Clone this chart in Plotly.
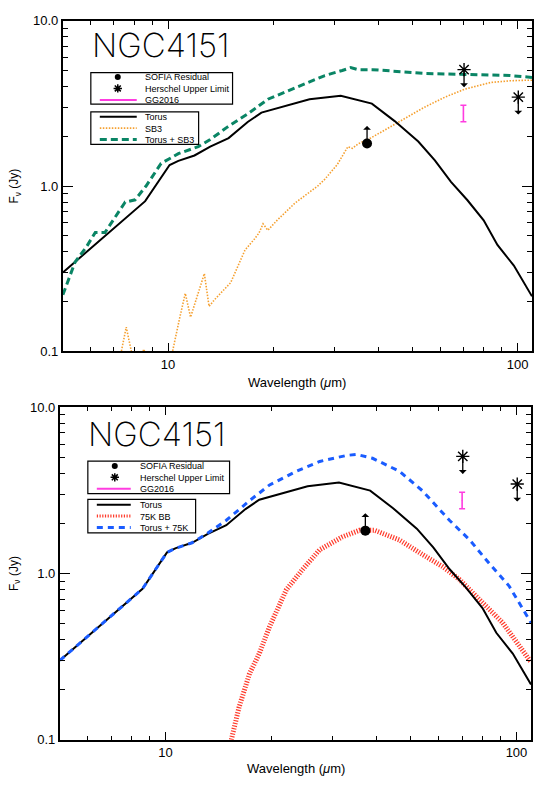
import numpy as np
import plotly.graph_objects as go

W, H = 534, 787

# ---------------- data ----------------
torus_wl = [5.0, 8.6, 10.1, 10.7, 11.9, 13.2, 14.9, 16.9, 18.5, 21.0, 25.4, 31.2, 38.3, 44.5,
            52.0, 58.0, 64.5, 71.9, 80.0, 87.6, 97.6, 110.0]
torus_f = [0.30, 0.81, 1.34, 1.42, 1.53, 1.73, 1.95, 2.44, 2.78, 3.0, 3.35, 3.52, 3.15, 2.47,
           1.86, 1.43, 1.06, 0.82, 0.62, 0.44, 0.33, 0.215]

sb3_wl = [5.0, 6.5, 7.2, 7.35, 7.59, 7.85, 8.0, 8.3, 8.53, 8.75, 9.5, 10.3, 10.8, 11.2, 11.6,
          12.0, 12.7, 13.1, 13.6, 15.1, 16.6, 17.7, 18.2, 18.7, 19.3, 20.5, 23.1, 26.8, 28.1,
          30.5, 32.7, 33.7, 35.0, 38.0, 43.3, 54.2, 62.0, 70.5, 83.7, 95.0, 104.7, 110.0]
sb3_f = [0.03, 0.04, 0.07, 0.1, 0.14, 0.1, 0.07, 0.09, 0.103, 0.08, 0.06, 0.1, 0.16, 0.224, 0.161,
         0.2, 0.295, 0.187, 0.206, 0.26, 0.41, 0.48, 0.52, 0.59, 0.54, 0.62, 0.79, 1.0, 1.10,
         1.35, 1.73, 1.69, 1.80, 1.95, 2.28, 3.0, 3.45, 3.85, 4.23, 4.33, 4.36, 4.36]

tsb3_wl = [5.0, 5.42, 5.83, 6.19, 6.6, 7.06, 7.54, 8.05, 8.65, 9.55, 10.7, 12.2, 13.2, 14.8,
           16.9, 19.3, 22.5, 28.1, 31.5, 33.3, 34.9, 38.5, 54.2, 70.5, 95.3, 110.0]
tsb3_f = [0.22, 0.347, 0.426, 0.524, 0.524, 0.644, 0.80, 0.825, 1.0, 1.37, 1.57, 1.73, 1.91, 2.28,
          2.73, 3.35, 3.85, 4.66, 5.0, 5.2, 5.06, 5.06, 4.8, 4.73, 4.66, 4.54]

bb75_wl = [15.4, 16.2, 17.35, 18.5, 19.8, 22.1, 24.6, 27.5, 31.9, 35.7, 39.4, 46.4, 54.0,
           61.6, 68.8, 80.0, 91.3, 110.0]
bb75_f = [0.1, 0.157, 0.25, 0.33, 0.48, 0.80, 1.06, 1.39, 1.66, 1.82, 1.82, 1.59, 1.30,
          1.10, 0.92, 0.665, 0.506, 0.293]

t75_wl = [5.0, 8.6, 10.1, 10.7, 11.9, 13.2, 14.9, 17.35, 19.8, 23.6, 27.5, 32.8, 35.0, 38.9,
          46.4, 54.0, 64.4, 73.6, 83.6, 95.3, 110.0]
t75_f = [0.30, 0.81, 1.34, 1.42, 1.53, 1.75, 2.09, 2.74, 3.41, 4.12, 4.72, 5.13, 5.2, 4.93,
         4.12, 3.14, 2.09, 1.59, 1.15, 0.84, 0.506]

sofia_wl = [37.1]
sofia_f = [1.81]

herschel_wl = [70.3, 100.5]
herschel_f = [5.06, 3.45]

gg_wl = [70.0]
gg_f = [2.75]
gg_err_plus = [0.33]
gg_err_minus = [0.30]

x_ticks = [10, 100]
x_ticktext = ["10", "100"]
y_ticks = [0.1, 1, 10]
y_ticktext = ["0.1", "1.0", "10.0"]

legend1_names = ["SOFIA Residual", "Herschel Upper Limit", "GG2016"]

# ---------------- styles ----------------
FONT = "Liberation Sans"
C_ORANGE = "#f5a030"
C_GREEN = "#0a8565"
C_RED = "#ff3a2a"
C_BLUE = "#1a5cff"
C_MAG = "#ff3ce0"

st_torus = dict(color="black", width=2)
st_sb3 = dict(color=C_ORANGE, width=1.6, dash="1.5px,1.5px")
st_tsb3 = dict(color=C_GREEN, width=3, dash="7px,4px")
st_bb = dict(color=C_RED, width=5, dash="1.2px,1.5px")
st_t75 = dict(color=C_BLUE, width=3, dash="6px,5px")

def px(x):
    return x / W

def py(y):
    return 1 - y / H

fig = go.Figure()

panels = [
    dict(xa="x", ya="y", dom_x=(63, 533), dom_y=(14, 351),
         comp=(sb3_wl, sb3_f, st_sb3, "SB3"), tot=(tsb3_wl, tsb3_f, st_tsb3, "Torus + SB3")),
    dict(xa="x2", ya="y2", dom_x=(60, 532), dom_y=(408, 747),
         comp=(bb75_wl, bb75_f, st_bb, "75K BB"), tot=(t75_wl, t75_f, st_t75, "Torus + 75K")),
]

for p in panels:
    xa, ya = p["xa"], p["ya"]
    cw, cf, cst, cname = p["comp"]
    tw, tf, tst, tname = p["tot"]
    fig.add_trace(go.Scatter(x=cw, y=cf, mode="lines", line=cst, name=cname,
                             xaxis=xa, yaxis=ya, showlegend=False))
    fig.add_trace(go.Scatter(x=torus_wl, y=torus_f, mode="lines", line=st_torus, name="Torus",
                             xaxis=xa, yaxis=ya, showlegend=False))
    fig.add_trace(go.Scatter(x=tw, y=tf, mode="lines", line=tst, name=tname,
                             xaxis=xa, yaxis=ya, showlegend=False))
    fig.add_trace(go.Scatter(x=gg_wl, y=gg_f, mode="markers",
                             marker=dict(size=1, color=C_MAG),
                             error_y=dict(type="data", symmetric=False, array=gg_err_plus,
                                          arrayminus=gg_err_minus, color=C_MAG,
                                          thickness=1.6, width=3),
                             xaxis=xa, yaxis=ya, showlegend=False, name="GG2016"))
    fig.add_trace(go.Scatter(x=sofia_wl, y=sofia_f, mode="markers",
                             marker=dict(size=10, color="black", symbol="circle"),
                             xaxis=xa, yaxis=ya, showlegend=False, name="SOFIA Residual"))
    fig.add_trace(go.Scatter(x=herschel_wl, y=herschel_f, mode="markers",
                             marker=dict(size=11, color="black", symbol="asterisk-open",
                                         line=dict(width=1.4, color="black")),
                             xaxis=xa, yaxis=ya, showlegend=False, name="Herschel Upper Limit"))
    # arrows (limits)
    for w, f in zip(sofia_wl, sofia_f):
        fig.add_annotation(x=np.log10(w), y=np.log10(f), xref=xa, yref=ya, ax=0, ay=-19,
                           axref="pixel", ayref="pixel", text="", showarrow=True,
                           arrowside="start", arrowhead=4, arrowsize=1.0, arrowwidth=1.3,
                           arrowcolor="black", standoff=0, startstandoff=0)
    for w, f in zip(herschel_wl, herschel_f):
        fig.add_annotation(x=np.log10(w), y=np.log10(f), xref=xa, yref=ya, ax=0, ay=19,
                           axref="pixel", ayref="pixel", text="", showarrow=True,
                           arrowside="start", arrowhead=4, arrowsize=1.0, arrowwidth=1.3,
                           arrowcolor="black", standoff=0, startstandoff=0)

# ---------------- axes ----------------
minor_x = [5, 6, 7, 8, 9, 20, 30, 40, 50, 60, 70, 80, 90]
minor_y = [0.2, 0.3, 0.4, 0.5, 0.6, 0.7, 0.8, 0.9, 2, 3, 4, 5, 6, 7, 8, 9]

def xaxis_cfg(dom, anchor):
    return dict(type="log", range=[np.log10(5), np.log10(110)], domain=[px(dom[0]), px(dom[1])],
                anchor=anchor, tickvals=x_ticks, ticktext=x_ticktext, ticks="inside",
                ticklen=8, tickwidth=1.3, tickcolor="black", showline=True, linewidth=2,
                linecolor="black", mirror="ticks", showgrid=False, zeroline=False,
                tickfont=dict(family=FONT, size=13, color="black"),
                minor=dict(tickvals=minor_x, ticks="inside", ticklen=4, tickwidth=1.1,
                           tickcolor="black", showgrid=False),
                fixedrange=True)

def yaxis_cfg(dom, anchor):
    return dict(type="log", range=[-1, 1], domain=[py(dom[1]), py(dom[0])],
                anchor=anchor, tickvals=y_ticks, ticktext=y_ticktext, ticks="inside",
                ticklen=10, tickwidth=1.3, tickcolor="black", showline=True, linewidth=2,
                linecolor="black", mirror="ticks", showgrid=False, zeroline=False,
                tickfont=dict(family=FONT, size=13, color="black"),
                minor=dict(tickvals=minor_y, ticks="inside", ticklen=5, tickwidth=1.1,
                           tickcolor="black", showgrid=False),
                fixedrange=True)

p0, p1 = panels
layout = dict(
    width=W, height=H, margin=dict(l=0, r=0, t=0, b=0),
    paper_bgcolor="white", plot_bgcolor="rgba(0,0,0,0)", showlegend=False,
    xaxis=xaxis_cfg(p0["dom_x"], "y"), yaxis=yaxis_cfg(p0["dom_y"], "x"),
    xaxis2=xaxis_cfg(p1["dom_x"], "y2"), yaxis2=yaxis_cfg(p1["dom_y"], "x2"),
    xaxis3=dict(domain=[0, 1], range=[0, W], anchor="y3", visible=False, fixedrange=True),
    yaxis3=dict(domain=[0, 1], range=[H, 0], anchor="x3", visible=False, fixedrange=True),
)
fig.update_layout(**layout)

# ---------------- titles, axis labels, legends (pixel overlay) ----------------
LEG_FS = 9
SP = 1.3 * LEG_FS  # line spacing of multi-line annotation text
legends = [
    dict(title_xy=(90, 39), box1=(91, 67, 233, 99), box2=(91, 107, 199, 140),
         lx=(100, 137), mx=118, tx=143, c1=83, c2=123.5,
         names2=("Torus", "SB3", "Torus + SB3"), styles2=(st_torus, st_sb3, st_tsb3),
         ylab=(15, 182), xlab=(298, 383)),
    dict(title_xy=(86, 435), box1=(88, 463, 230, 496), box2=(88, 502, 196, 536),
         lx=(97, 131), mx=115, tx=138, c1=479.5, c2=519,
         names2=("Torus", "75K BB", "Torus + 75K"), styles2=(st_torus, st_bb, st_t75),
         ylab=(15, 577), xlab=(297, 776)),
]

for L in legends:
    fig.add_annotation(x=L["title_xy"][0], y=L["title_xy"][1], xref="x3", yref="y3",
                       text="NGC4151", showarrow=False, xanchor="left", yanchor="middle",
                       font=dict(family="Inter", size=33, color="black", weight=200))
    fig.add_annotation(x=L["ylab"][0], y=L["ylab"][1], xref="x3", yref="y3",
                       text="F<sub>ν</sub> (Jy)", showarrow=False, textangle=-90,
                       xanchor="center", yanchor="middle",
                       font=dict(family=FONT, size=12, color="black"))
    fig.add_annotation(x=L["xlab"][0], y=L["xlab"][1], xref="x3", yref="y3",
                       text="Wavelength (<i>μ</i>m)", showarrow=False,
                       xanchor="center", yanchor="middle",
                       font=dict(family=FONT, size=13, color="black"))
    for b in (L["box1"], L["box2"]):
        fig.add_shape(type="rect", xref="x3", yref="y3", x0=b[0], y0=b[1], x1=b[2], y1=b[3],
                      line=dict(color="black", width=1.2), fillcolor="rgba(0,0,0,0)")
    r1 = (L["c1"] - SP, L["c1"], L["c1"] + SP)
    r2 = (L["c2"] - SP, L["c2"], L["c2"] + SP)
    # box 1 samples
    fig.add_trace(go.Scatter(x=[L["mx"]], y=[r1[0]], xaxis="x3", yaxis="y3", mode="markers",
                             marker=dict(size=6, color="black"), showlegend=False,
                             hoverinfo="skip"))
    fig.add_trace(go.Scatter(x=[L["mx"]], y=[r1[1]], xaxis="x3", yaxis="y3", mode="markers",
                             marker=dict(size=7, color="black", symbol="asterisk-open",
                                         line=dict(width=1.5, color="black")),
                             showlegend=False, hoverinfo="skip"))
    fig.add_trace(go.Scatter(x=list(L["lx"]), y=[r1[2], r1[2]], xaxis="x3", yaxis="y3",
                             mode="lines", line=dict(color=C_MAG, width=2),
                             showlegend=False, hoverinfo="skip"))
    fig.add_annotation(x=L["tx"], y=L["c1"], xref="x3", yref="y3",
                       text="<br>".join(legend1_names), showarrow=False, align="left",
                       xanchor="left", yanchor="middle",
                       font=dict(family=FONT, size=LEG_FS, color="black"))
    for yy, st in zip(r2, L["styles2"]):
        st2 = dict(st)
        if st2.get("width", 1) > 3:
            st2["width"] = 3
        fig.add_trace(go.Scatter(x=list(L["lx"]), y=[yy, yy], xaxis="x3", yaxis="y3",
                                 mode="lines", line=st2, showlegend=False, hoverinfo="skip"))
    fig.add_annotation(x=L["tx"], y=L["c2"], xref="x3", yref="y3",
                       text="<br>".join(L["names2"]), showarrow=False, align="left",
                       xanchor="left", yanchor="middle",
                       font=dict(family=FONT, size=LEG_FS, color="black"))

fig.write_html("out.html")
